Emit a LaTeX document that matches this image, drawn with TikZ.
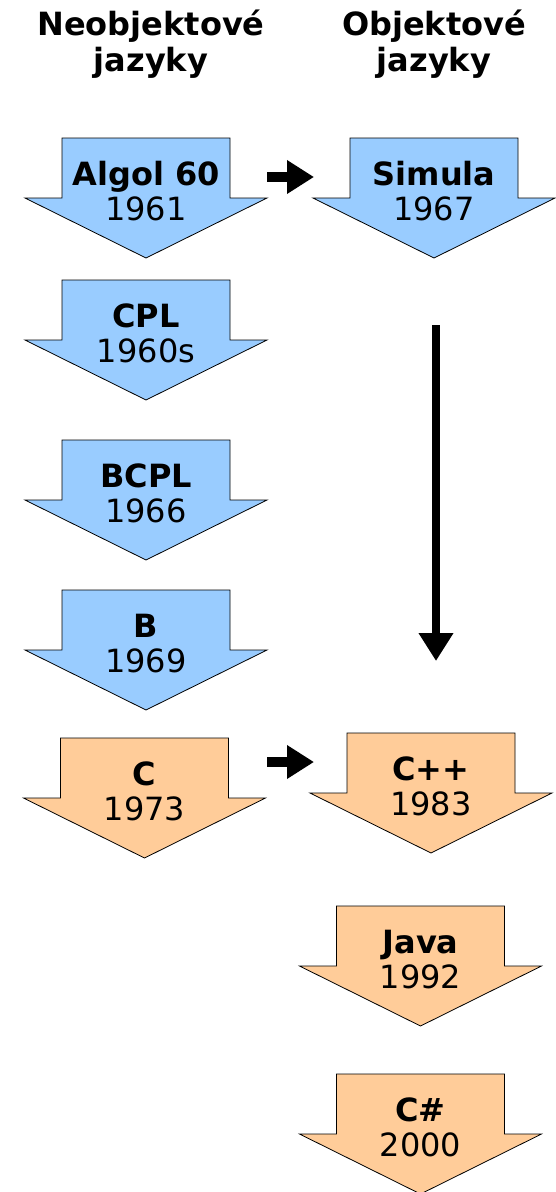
\documentclass[tikz,border=0pt]{standalone}
\usepackage{fontspec}
\setmainfont{DejaVu Sans}
\usetikzlibrary{arrows.meta}

\definecolor{oldblue}{HTML}{99CCFF}
\definecolor{newpeach}{HTML}{FFCC99}

\tikzset{
  langshape/.style={draw=black, line width=0.8pt, line join=miter},
  langlabel/.style={align=center, anchor=base, inner sep=0pt, font=\fontsize{32}{35}\selectfont},
  heading/.style={align=center, anchor=base, inner sep=0pt, font=\fontsize{32}{36}\selectfont\bfseries},
  influence/.style={line width=10pt, -{Triangle[length=27pt,width=32pt]}},
  lineage/.style={line width=8pt, -{Triangle[length=28pt,width=33pt]}},
}

% down arrow box: node name, centre x, top y, fill, language, year
\newcommand{\langbox}[6]{
  \draw[langshape, fill=#4] (#2-84,#3) -- (#2+84,#3) -- (#2+84,#3+60) -- (#2+121,#3+60)
    -- (#2,#3+120) -- (#2-121,#3+60) -- (#2-84,#3+60) -- cycle;
  \node[langlabel] (#1) at (#2,#3+82) {\textbf{#5}\\#6};
}

\begin{document}
\begin{tikzpicture}[x=1pt, y=-1pt]
  \useasboundingbox (0,0) rectangle (556,1192);

  \node[heading] (neobj) at (151,71) {Neobjektové\\jazyky};
  \node[heading] (obj) at (434,71) {Objektové\\jazyky};

  \langbox{algol}{146}{138}{oldblue}{Algol 60}{1961}
  \langbox{simula}{434}{138}{oldblue}{Simula}{1967}
  \langbox{cpl}{146}{280}{oldblue}{CPL}{1960s}
  \langbox{bcpl}{146}{440}{oldblue}{BCPL}{1966}
  \langbox{b}{146}{590}{oldblue}{B}{1969}
  \langbox{c}{144.5}{738}{newpeach}{C}{1973}
  \langbox{cpp}{431}{733}{newpeach}{C++}{1983}
  \langbox{java}{420.5}{906}{newpeach}{Java}{1992}
  \langbox{csharp}{420.5}{1074}{newpeach}{C\#}{2000}

  \coordinate (algolout) at (267,177);
  \coordinate (simulain) at (314,177);
  \coordinate (cout) at (267,762);
  \coordinate (cppin) at (314,762);
  \coordinate (simulaout) at (436,325);
  \coordinate (cppabove) at (436,661);

  \draw[influence] (algolout) -- (simulain);
  \draw[influence] (cout) -- (cppin);
  \draw[lineage] (simulaout) -- (cppabove);
\end{tikzpicture}
\end{document}
